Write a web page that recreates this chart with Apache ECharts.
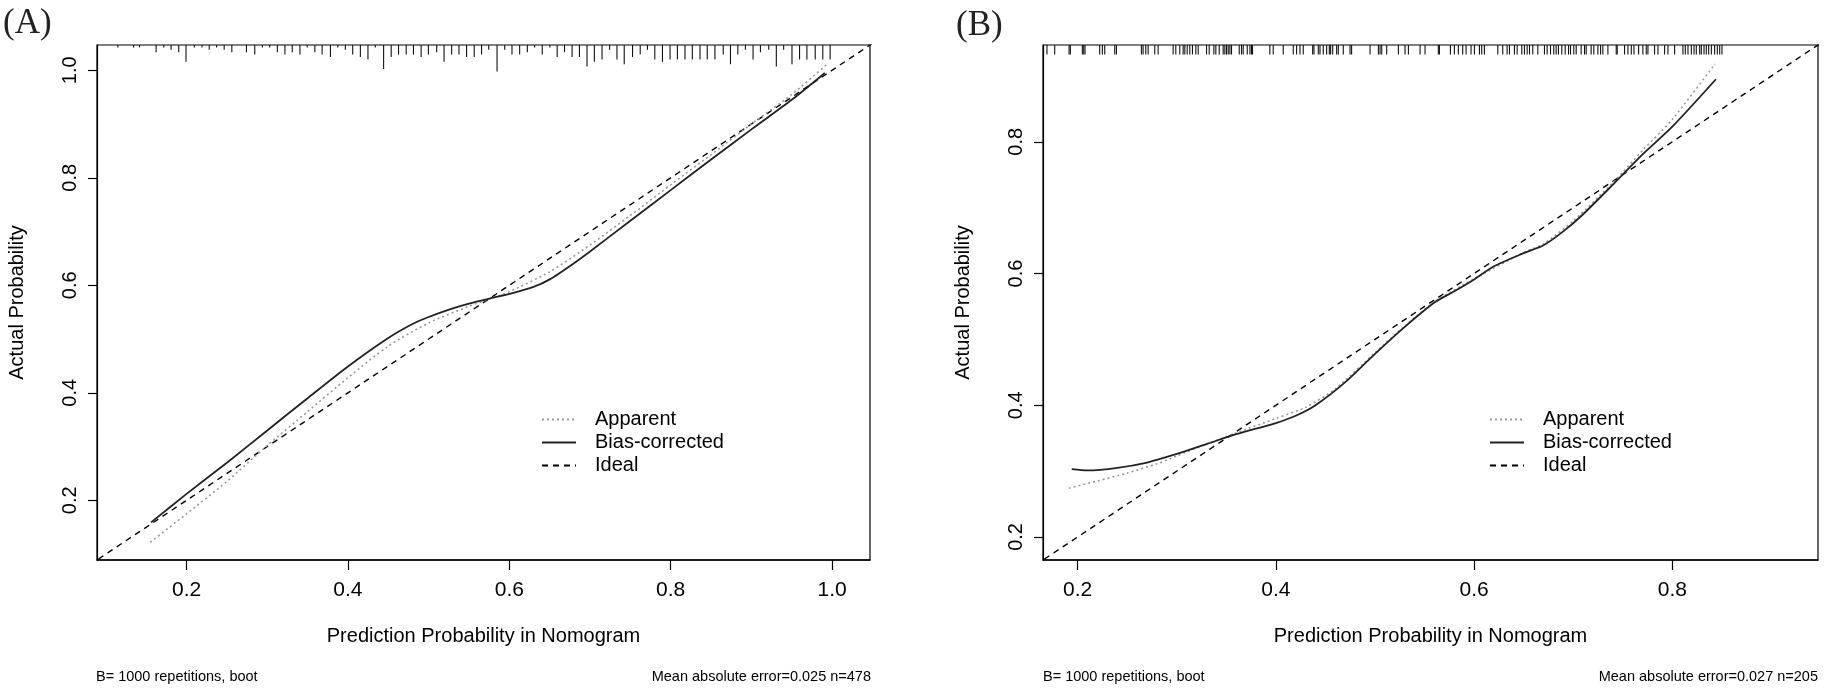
<!DOCTYPE html>
<html>
<head>
<meta charset="utf-8">
<title>Calibration curves (A) and (B)</title>
<script src="https://cdn.jsdelivr.net/npm/echarts@6/dist/echarts.min.js"></script>
<style>
  html, body { margin: 0; padding: 0; background: #fff; }
  #chart { width: 1825px; height: 688px; }
</style>
</head>
<body>
<div id="chart"></div>
<script>
// axis ranges and ticks
const rangeA = [0.089, 1.047];
const rangeB = [0.165, 0.947];
const ticksA = [0.2, 0.4, 0.6, 0.8, 1.0];
const ticksB = [0.2, 0.4, 0.6, 0.8];

// ideal line y = x
const ideal = [[0, 0], [1.2, 1.2]];

// panel A curves [predicted, actual]
const apparentA = [
  [0.155, 0.122], [0.2, 0.175], [0.25, 0.235], [0.3, 0.302], [0.35, 0.365],
  [0.4, 0.428], [0.45, 0.487], [0.5, 0.53], [0.55, 0.561], [0.58, 0.577],
  [0.6, 0.588], [0.65, 0.625], [0.7, 0.675], [0.75, 0.73], [0.8, 0.787],
  [0.85, 0.843], [0.9, 0.9], [0.95, 0.955], [0.995, 1.013]
];
const biasA = [
  [0.156, 0.159], [0.2, 0.212], [0.25, 0.27], [0.3, 0.33], [0.35, 0.39],
  [0.4, 0.449], [0.45, 0.502], [0.48, 0.528], [0.5, 0.541], [0.53, 0.557],
  [0.55, 0.566], [0.58, 0.577], [0.6, 0.584], [0.63, 0.597], [0.65, 0.611],
  [0.68, 0.641], [0.7, 0.663], [0.75, 0.72], [0.8, 0.777], [0.85, 0.834],
  [0.9, 0.89], [0.95, 0.945], [0.991, 0.995]
];

// panel B curves
const apparentB = [
  [0.191, 0.274], [0.22, 0.285], [0.25, 0.297], [0.28, 0.311], [0.3, 0.323],
  [0.33, 0.341], [0.36, 0.358], [0.4, 0.38], [0.43, 0.397], [0.46, 0.425],
  [0.5, 0.48], [0.53, 0.52], [0.56, 0.557], [0.6, 0.592], [0.65, 0.632],
  [0.67, 0.645], [0.7, 0.68], [0.74, 0.738], [0.77, 0.787], [0.8, 0.834],
  [0.843, 0.918]
];
const biasB = [
  [0.194, 0.303], [0.21, 0.301], [0.24, 0.305], [0.27, 0.313], [0.3, 0.326],
  [0.33, 0.341], [0.36, 0.356], [0.4, 0.373], [0.42, 0.384], [0.44, 0.4],
  [0.47, 0.435], [0.5, 0.478], [0.53, 0.519], [0.56, 0.556], [0.58, 0.573],
  [0.6, 0.591], [0.62, 0.611], [0.65, 0.631], [0.67, 0.643], [0.69, 0.664],
  [0.71, 0.69], [0.74, 0.735], [0.77, 0.781], [0.8, 0.823], [0.844, 0.895]
];

// top spike histogram of predictions, panel A (bin position, count)
const rugAx = [
  0.1149, 0.1343, 0.1417, 0.1623, 0.1717, 0.1808, 0.1903, 0.1993, 0.2096, 0.2191,
  0.2281, 0.2372, 0.2466, 0.2561, 0.2742, 0.2845, 0.2940, 0.3030, 0.3125, 0.3219,
  0.3310, 0.3405, 0.3495, 0.3590, 0.3680, 0.3783, 0.3874, 0.3968, 0.4059, 0.4154,
  0.4248, 0.4339, 0.4442, 0.4536, 0.4627, 0.4722, 0.4812, 0.4907, 0.4997, 0.5100,
  0.5191, 0.5285, 0.5376, 0.5470, 0.5565, 0.5656, 0.5745, 0.5848, 0.5943, 0.6033,
  0.6128, 0.6223, 0.6313, 0.6408, 0.6503, 0.6593, 0.6684, 0.6778, 0.6869, 0.6963,
  0.7054, 0.7149, 0.7243, 0.7334, 0.7424, 0.7527, 0.7622, 0.7712, 0.7803, 0.7898,
  0.7992, 0.8083, 0.8177, 0.8268, 0.8363, 0.8453, 0.8548, 0.8651, 0.8741, 0.8832,
  0.8926, 0.9021, 0.9112, 0.9215, 0.9309, 0.9400, 0.9503, 0.9597, 0.9688, 0.9791,
  0.9885, 0.9976
];
const rugAn = [
  1, 1, 1, 3, 1, 2, 3, 7, 1, 1,
  2, 1, 2, 3, 3, 4, 1, 1, 3, 4,
  3, 4, 1, 3, 4, 5, 1, 2, 4, 5,
  6, 1, 10, 5, 4, 4, 4, 5, 4, 3,
  7, 4, 4, 5, 5, 4, 2, 11, 2, 4,
  4, 3, 1, 4, 1, 5, 3, 5, 5, 9,
  7, 6, 2, 6, 8, 5, 4, 2, 6, 7,
  6, 6, 6, 6, 6, 6, 6, 4, 8, 4,
  2, 6, 3, 2, 9, 2, 8, 6, 6, 6,
  6, 6
];

// rug of predictions, panel B
const rugBx = [
  0.1690, 0.1768, 0.1913, 0.1926, 0.2047, 0.2061, 0.2074, 0.2222, 0.2249, 0.2273,
  0.2374, 0.2391, 0.2643, 0.2660, 0.2687, 0.2711, 0.2778, 0.2812, 0.2963, 0.2990,
  0.3030, 0.3064, 0.3081, 0.3105, 0.3131, 0.3158, 0.3192, 0.3216, 0.3300, 0.3327,
  0.3374, 0.3394, 0.3428, 0.3468, 0.3485, 0.3502, 0.3519, 0.3536, 0.3552, 0.3630,
  0.3653, 0.3670, 0.3711, 0.3738, 0.3754, 0.3764, 0.3939, 0.3973, 0.4074, 0.4175,
  0.4209, 0.4243, 0.4276, 0.4371, 0.4384, 0.4428, 0.4445, 0.4478, 0.4512, 0.4539,
  0.4552, 0.4573, 0.4613, 0.4630, 0.4680, 0.4748, 0.4764, 0.4950, 0.5034, 0.5051,
  0.5068, 0.5118, 0.5236, 0.5303, 0.5337, 0.5455, 0.5505, 0.5639, 0.5650, 0.5761,
  0.5801, 0.5841, 0.5885, 0.5919, 0.5969, 0.6003, 0.6054, 0.6077, 0.6104, 0.6239,
  0.6289, 0.6333, 0.6357, 0.6407, 0.6434, 0.6481, 0.6508, 0.6535, 0.6559, 0.6592,
  0.6643, 0.6710, 0.6737, 0.6771, 0.6804, 0.6828, 0.6851, 0.6885, 0.6919, 0.6953,
  0.6973, 0.7006, 0.7030, 0.7080, 0.7114, 0.7131, 0.7181, 0.7208, 0.7249, 0.7276,
  0.7299, 0.7350, 0.7434, 0.7444, 0.7518, 0.7552, 0.7586, 0.7613, 0.7660, 0.7703,
  0.7737, 0.7754, 0.7821, 0.7855, 0.7922, 0.7956, 0.8023, 0.8107, 0.8131, 0.8158,
  0.8192, 0.8219, 0.8242, 0.8276, 0.8293, 0.8320, 0.8343, 0.8367, 0.8394, 0.8427,
  0.8454, 0.8478, 0.8501
];

const legendNames = ["Apparent", "Bias-corrected", "Ideal"];
const footLeft = "B= 1000 repetitions, boot";
const footA = "Mean absolute error=0.025 n=478";
const footB = "Mean absolute error=0.027 n=205";

const SANS = "'Liberation Sans', Arial, sans-serif";
const SERIF = "'Liberation Serif', 'Times New Roman', serif";

function xAxisFor(gridIndex, range, ticks) {
  return {
    type: "value",
    gridIndex,
    min: range[0],
    max: range[1],
    name: "Prediction Probability in Nomogram",
    nameLocation: "middle",
    nameGap: 66,
    nameTextStyle: { color: "#000", fontFamily: SANS, fontSize: 20 },
    axisLine: { show: true, lineStyle: { color: "#000", width: 1.5 } },
    axisTick: { show: true, inside: false, length: 10, customValues: ticks, lineStyle: { color: "#000", width: 1.2 } },
    axisLabel: {
      customValues: ticks,
      margin: 20,
      color: "#000",
      fontFamily: SANS,
      fontSize: 21,
      formatter: (v) => v.toFixed(1)
    },
    splitLine: { show: false }
  };
}

function yAxisFor(gridIndex, range, ticks) {
  return {
    type: "value",
    gridIndex,
    min: range[0],
    max: range[1],
    name: "Actual Probability",
    nameLocation: "middle",
    nameRotate: 90,
    nameGap: 70,
    nameTextStyle: { color: "#000", fontFamily: SANS, fontSize: 20 },
    axisLine: { show: true, lineStyle: { color: "#000", width: 1.2 } },
    axisTick: { show: true, inside: false, length: 9, customValues: ticks, lineStyle: { color: "#000", width: 1.2 } },
    axisLabel: {
      customValues: ticks,
      rotate: 90,
      margin: 17,
      color: "#000",
      fontFamily: SANS,
      fontSize: 20,
      formatter: (v) => v.toFixed(1)
    },
    splitLine: { show: false }
  };
}

function rugRenderer(pxPerCount) {
  return (params, api) => {
    const pt = api.coord([api.value(0), 0.5]);
    const top = params.coordSys.y;
    const len = api.value(1) * pxPerCount;
    return {
      type: "line",
      shape: { x1: pt[0], y1: top, x2: pt[0], y2: top + len },
      style: { stroke: "#111", lineWidth: 1.1 }
    };
  };
}

function curve(name, idx, data, color, width, dash, z) {
  return {
    name,
    type: "line",
    xAxisIndex: idx,
    yAxisIndex: idx,
    data,
    symbol: "none",
    smooth: 0.25,
    clip: true,
    itemStyle: { color },
    lineStyle: { color, width, type: dash },
    z
  };
}

function panelSeries(idx, apparent, bias, rugData, pxPerCount) {
  const idealLine = curve("Ideal", idx, ideal, "#000", 1.4, [6, 5], 2);
  idealLine.smooth = false;
  return [
    idealLine,
    curve("Apparent", idx, apparent, "#9a9a9a", 1.6, [2, 3], 3),
    curve("Bias-corrected", idx, bias, "#222", 1.8, "solid", 4),
    {
      name: "rug",
      type: "custom",
      xAxisIndex: idx,
      yAxisIndex: idx,
      data: rugData,
      clip: false,
      silent: true,
      renderItem: rugRenderer(pxPerCount),
      z: 5
    }
  ];
}

function legendAt(left) {
  return {
    data: legendNames,
    orient: "vertical",
    left,
    top: 403,
    itemWidth: 34,
    itemHeight: 14,
    itemGap: 0,
    selectedMode: false,
    itemStyle: { opacity: 0 },
    textStyle: { color: "#000", fontFamily: SANS, fontSize: 20, lineHeight: 23, padding: [0, 0, 0, 14] }
  };
}

const rugA = rugAx.map((x, i) => [x, rugAn[i]]);
const rugB = rugBx.map((x) => [x, 1]);

const chart = echarts.init(document.getElementById("chart"), null, { renderer: "canvas" });

chart.setOption({
  backgroundColor: "#fff",
  animation: false,
  title: [
    { text: "(A)", left: 3, top: 6, padding: 0, textStyle: { fontFamily: SERIF, fontWeight: "normal", fontSize: 35, color: "#222" } },
    { text: "(B)", left: 956, top: 8, padding: 0, textStyle: { fontFamily: SERIF, fontWeight: "normal", fontSize: 35, color: "#222" } },
    { text: footLeft, left: 96, top: 669, padding: 0, textStyle: { fontFamily: SANS, fontWeight: "normal", fontSize: 14.5, color: "#000" } },
    { text: footA, right: 954, top: 669, padding: 0, textStyle: { fontFamily: SANS, fontWeight: "normal", fontSize: 14.5, color: "#000" } },
    { text: footLeft, left: 1043, top: 669, padding: 0, textStyle: { fontFamily: SANS, fontWeight: "normal", fontSize: 14.5, color: "#000" } },
    { text: footB, right: 7, top: 669, padding: 0, textStyle: { fontFamily: SANS, fontWeight: "normal", fontSize: 14.5, color: "#000" } }
  ],
  legend: [legendAt(536), legendAt(1484)],
  grid: [
    { left: 97, top: 45, width: 773, height: 515, show: true, borderColor: "#000", borderWidth: 1.2, backgroundColor: "transparent" },
    { left: 1043, top: 45, width: 775, height: 515, show: true, borderColor: "#000", borderWidth: 1.2, backgroundColor: "transparent" }
  ],
  xAxis: [xAxisFor(0, rangeA, ticksA), xAxisFor(1, rangeB, ticksB)],
  yAxis: [yAxisFor(0, rangeA, ticksA), yAxisFor(1, rangeB, ticksB)],
  series: [
    ...panelSeries(0, apparentA, biasA, rugA, 2.4),
    ...panelSeries(1, apparentB, biasB, rugB, 9.5)
  ]
});

window.addEventListener("resize", () => chart.resize());
</script>
</body>
</html>
